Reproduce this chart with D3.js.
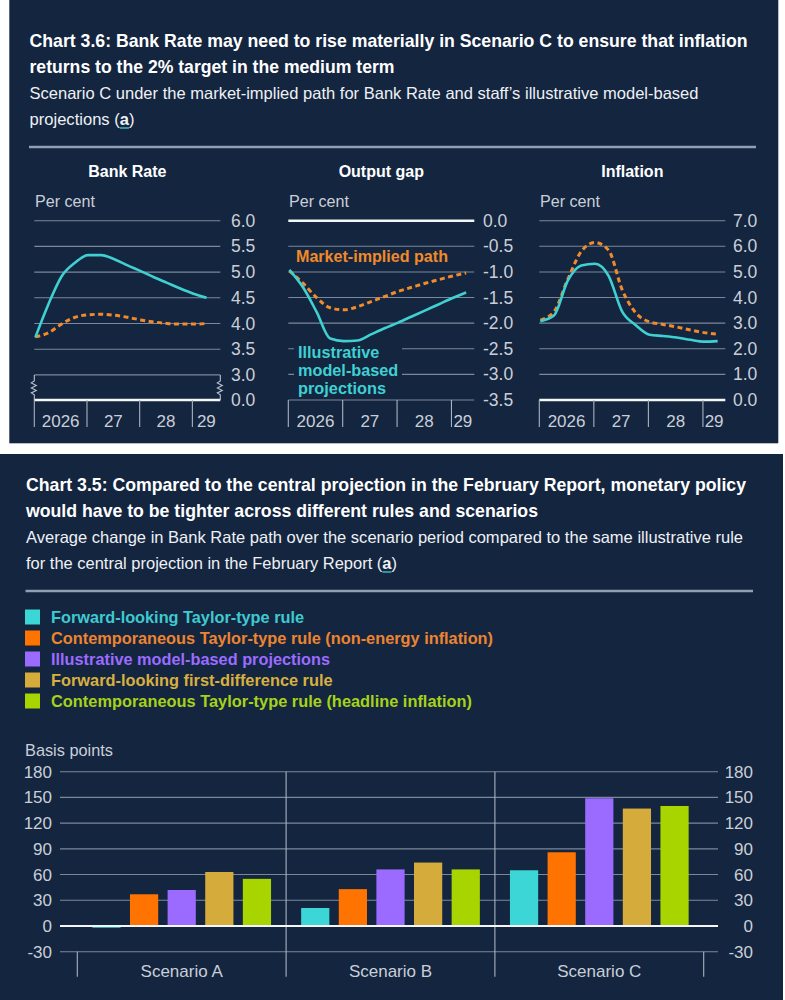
<!DOCTYPE html>
<html><head><meta charset="utf-8">
<script src="https://cdn.jsdelivr.net/npm/d3@7"></script>
<style>body{margin:0;background:#fff;} svg{display:block;}</style>
</head><body><svg id="c" width="785" height="1000"></svg>
<script>
// ---------- DATA: Chart 3.6 ----------
const quarters = [2026.02,2026.27,2026.52,2026.77,2027.02,2027.27,2027.52,2027.77,2028.02,2028.27,2028.52,2028.77,2029.02,2029.27];
const bankRateModel  = [3.73,4.38,4.92,5.18,5.33,5.33,5.25,5.13,5.02,4.90,4.79,4.68,4.58,4.50];
const bankRateMarket = [3.74,3.82,3.99,4.12,4.17,4.18,4.16,4.12,4.07,4.03,4.00,3.99,3.99,4.00];
const outputGapModel  = [-0.96,-1.30,-1.78,-2.30,-2.35,-2.34,-2.22,-2.10,-1.99,-1.87,-1.75,-1.63,-1.51,-1.40];
const outputGapMarket = [-0.98,-1.22,-1.50,-1.70,-1.74,-1.68,-1.58,-1.48,-1.38,-1.30,-1.22,-1.15,-1.08,-1.02];
const inflationModel  = [3.08,3.30,4.65,5.25,5.32,4.85,3.45,2.92,2.55,2.50,2.44,2.35,2.28,2.30];
const inflationMarket = [3.12,3.45,4.70,5.80,6.15,5.85,4.30,3.40,3.05,2.95,2.85,2.73,2.63,2.57];
const bankRateTicks  = [0.0,3.0,3.5,4.0,4.5,5.0,5.5,6.0];
const outputGapTicks = [-3.5,-3.0,-2.5,-2.0,-1.5,-1.0,-0.5,0.0];
const inflationTicks = [0,1,2,3,4,5,6,7];
const yearTicks  = [2026,2027,2028,2029];
const yearLabels = ["2026","27","28","29"];
const panelTitles = ["Bank Rate","Output gap","Inflation"];

// ---------- DATA: Chart 3.5 ----------
const scenarios = ["Scenario A","Scenario B","Scenario C"];
const ruleNames = ["Forward-looking Taylor-type rule",
  "Contemporaneous Taylor-type rule (non-energy inflation)",
  "Illustrative model-based projections",
  "Forward-looking first-difference rule",
  "Contemporaneous Taylor-type rule (headline inflation)"];
const forwardTaylor    = [-2, 21, 65];
const contempNonEnergy = [37, 43, 86];
const modelBased       = [42, 66, 149];
const forwardFirstDiff = [63, 74, 137];
const contempHeadline  = [55, 66, 140];
const barTicks = [-30,0,30,60,90,120,150,180];

// ---------- STYLE ----------
const BG = "#14253f", GRID = "#7b889b", TICKTXT = "#c9cfd8";
const TEAL = "#3fd0d2", ORANGE = "#f08a2a";
const ruleColors = ["#3dd6d6","#ff7300","#9b6bff","#d5ac3c","#a8d400"];
const ruleTextColors = ["#3fc9d0","#ec8430","#9a6cff","#d8b040","#a6d21a"];
const SANS = "'Liberation Sans', Arial, Helvetica, sans-serif";
const NARROW = "'Liberation Sans Narrow','Arial Narrow','Liberation Sans',Arial,sans-serif";

const svg = d3.select("#c");
svg.append("rect").attr("x",9.3).attr("y",0).attr("width",769).attr("height",443.3).attr("fill",BG);
svg.append("rect").attr("x",0).attr("y",454).attr("width",783).attr("height",546).attr("fill",BG);

function txt(x,y,s,o){
  o = o||{};
  const t = svg.append("text").attr("x",x).attr("y",y)
    .attr("font-family",o.family||SANS).attr("font-size",o.size||16)
    .attr("font-weight",o.weight||"normal").attr("fill",o.fill||"#fff")
    .attr("text-anchor",o.anchor||"start").text(s);
  if(o.len){t.attr("textLength",o.len).attr("lengthAdjust","spacingAndGlyphs");}
  return t;
}
function header(x, sep, sepEnd, l1, l1len, l2, l2len, s1, s1len, s2, s2len){
  txt(x, sep-100, l1, {family:NARROW,size:18.5,weight:"bold",len:l1len});
  txt(x, sep-74, l2, {family:NARROW,size:18.5,weight:"bold",len:l2len});
  txt(x, sep-48, s1, {family:NARROW,size:16.5,fill:"#eef1f5",len:s1len});
  const t = svg.append("text").attr("x",x).attr("y",sep-22)
    .attr("font-family",NARROW).attr("font-size",16.5).attr("fill","#eef1f5")
    .attr("textLength",s2len).attr("lengthAdjust","spacingAndGlyphs");
  t.append("tspan").text(s2+" (");
  t.append("tspan").attr("font-weight","bold").text("a");
  t.append("tspan").text(")");
  const idx = (s2+" (").length;
  try{
    const e = t.node().getExtentOfChar(idx);
    svg.append("line").attr("x1",e.x).attr("x2",e.x+e.width).attr("y1",sep-19).attr("y2",sep-19)
      .attr("stroke","#3fb3c0").attr("stroke-width",1.5);
  }catch(err){}
  svg.append("line").attr("x1",x-0.5).attr("x2",sepEnd).attr("y1",sep).attr("y2",sep)
    .attr("stroke","#8fa0b5").attr("stroke-width",2.5);
}
header(29.5,147,756,
 "Chart 3.6: Bank Rate may need to rise materially in Scenario C to ensure that inflation",718,
 "returns to the 2% target in the medium term",365,
 "Scenario C under the market-implied path for Bank Rate and staff\u2019s illustrative model-based",669,
 "projections",105);
header(26,591,753,
 "Chart 3.5: Compared to the central projection in the February Report, monetary policy",720,
 "would have to be tighter across different rules and scenarios",512,
 "Average change in Bank Rate path over the scenario period compared to the same illustrative rule",717,
 "for the central projection in the February Report",371);

// ---------- Chart 3.6 small multiples ----------
const panels = [
  {model:bankRateModel, market:bankRateMarket, ticks:bankRateTicks, left:34.3, xEnd:2029.53,
   yDomain:[0,3,6], yRange:[400,374.9,220.7], zero:0, brk:true, labX:231},
  {model:outputGapModel, market:outputGapMarket, ticks:outputGapTicks, left:288.3, xEnd:2029.42,
   yDomain:[-3.5,0], yRange:[400,220.7], zero:0, brk:false, labX:483},
  {model:inflationModel, market:inflationMarket, ticks:inflationTicks, left:539.3, xEnd:2029.41,
   yDomain:[0,7], yRange:[400,220.7], zero:0, brk:false, labX:733}
];
const PW = 186;
panels.forEach((p,pi)=>{
  const x = d3.scaleLinear().domain([2026,p.xEnd]).range([p.left,p.left+PW]);
  const y = d3.scaleLinear().domain(p.yDomain).range(p.yRange);
  const g = svg.append("g");
  txt(p.left+PW/2, 176.7, panelTitles[pi], {size:16,weight:"bold",anchor:"middle"});
  txt(p.left+0.7, 206.7, "Per cent", {size:17,fill:TICKTXT,len:60});
  p.ticks.forEach(t=>{
    const isZero = t===p.zero;
    g.append("line").attr("x1",p.left).attr("x2",p.left+PW).attr("y1",y(t)).attr("y2",y(t))
      .attr("stroke",isZero?"#f4f6f8":GRID).attr("stroke-width",isZero?2.5:1.1);
    txt(p.labX, y(t)+6, t.toFixed(1), {size:17.5,fill:TICKTXT});
  });
  if(p.brk){
    [p.left, p.left+PW].forEach(bx=>{
      const y0 = y(3), y1 = y(0);
      const path = `M${bx},${y0} V${y0+6} L${bx-3},${y0+8} L${bx+2},${y0+10.5} L${bx-3},${y0+13} L${bx+2},${y0+15.5} L${bx-3},${y0+18} L${bx},${y0+20} V${y1}`;
      g.append("path").attr("d",path).attr("fill","none").attr("stroke","#b9c2cf").attr("stroke-width",1.1);
    });
  }
  yearTicks.forEach((yr,i)=>{
    g.append("line").attr("x1",x(yr)).attr("x2",x(yr)).attr("y1",400).attr("y2",427)
      .attr("stroke","#a9b3c1").attr("stroke-width",1.1);
    const nx = i<yearTicks.length-1 ? x(yearTicks[i+1]) : x(p.xEnd);
    txt((x(yr)+nx)/2, 426.5, yearLabels[i], {size:17,fill:TICKTXT,anchor:"middle"});
  });
  if(pi===1){
    svg.append("rect").attr("x",294).attr("y",342).attr("width",108).attr("height",53).attr("fill",BG);
    txt(296, 261.5, "Market-implied path", {size:16,weight:"bold",fill:ORANGE,len:152});
    [["Illustrative",81.3],["model-based",100.3],["projections",88]].forEach((d,i)=>{
      txt(298, 358.3+i*17.7, d[0], {size:16.5,weight:"bold",fill:TEAL,len:d[1]});
    });
  }
  const line = d3.line().x((d,i)=>x(quarters[i])).y(d=>y(d)).curve(d3.curveMonotoneX);
  svg.append("path").attr("d",line(p.market)).attr("fill","none").attr("stroke",ORANGE)
    .attr("stroke-width",3).attr("stroke-dasharray","5,3.5");
  svg.append("path").attr("d",line(p.model)).attr("fill","none").attr("stroke",TEAL)
    .attr("stroke-width",2.6).attr("stroke-linejoin","round");
});

// ---------- Chart 3.5 legend ----------
const legendLens = [253, 442, 279, 281.6, 421];
ruleNames.forEach((n,i)=>{
  const cy = 617 + i*21;
  svg.append("rect").attr("x",25).attr("y",cy-7.5).attr("width",15).attr("height",15).attr("fill",ruleColors[i]);
  txt(51, cy+6, n, {size:17,weight:"bold",fill:ruleTextColors[i],len:legendLens[i]});
});

// ---------- Chart 3.5 bars ----------
const series = [forwardTaylor, contempNonEnergy, modelBased, forwardFirstDiff, contempHeadline];
const x0 = d3.scaleBand().domain(scenarios).range([77.3,703.7]);
const x1 = d3.scaleBand().domain(ruleNames).range([0,x0.bandwidth()]).paddingInner(0.25).paddingOuter(0.4);
const yB = d3.scaleLinear().domain([-30,180]).range([951.7,771.7]);
txt(25, 755.5, "Basis points", {size:17,fill:TICKTXT,len:88});
barTicks.forEach(t=>{
  if(t!==0){
    svg.append("line").attr("x1",60).attr("x2",718).attr("y1",yB(t)).attr("y2",yB(t))
      .attr("stroke",GRID).attr("stroke-width",1.1);
  }
  txt(52, yB(t)+6, String(t), {size:17,fill:TICKTXT,anchor:"end"});
  txt(753, yB(t)+6, String(t), {size:17,fill:TICKTXT,anchor:"end"});
});
scenarios.forEach((s,i)=>{
  if(i>0){
    svg.append("line").attr("x1",x0(s)).attr("x2",x0(s)).attr("y1",yB(180)).attr("y2",976.7)
      .attr("stroke","#a9b3c1").attr("stroke-width",1.1);
  }
  txt(x0(s)+x0.bandwidth()/2, 977, s, {size:17,fill:TICKTXT,anchor:"middle"});
});
[x0.range()[0], x0.range()[1]].forEach(ex=>{
  svg.append("line").attr("x1",ex).attr("x2",ex).attr("y1",yB(-30)).attr("y2",976.7)
    .attr("stroke","#a9b3c1").attr("stroke-width",1.1);
});
series.forEach((vals,ri)=>{
  scenarios.forEach((s,si)=>{
    const v = vals[si];
    svg.append("rect").attr("x",x0(s)+x1(ruleNames[ri])).attr("width",x1.bandwidth())
      .attr("y",yB(Math.max(0,v))).attr("height",Math.abs(yB(v)-yB(0)))
      .attr("fill",ruleColors[ri]);
  });
});
svg.append("line").attr("x1",60).attr("x2",718).attr("y1",yB(0)).attr("y2",yB(0))
  .attr("stroke","#f4f6f8").attr("stroke-width",2);
</script></body></html>
